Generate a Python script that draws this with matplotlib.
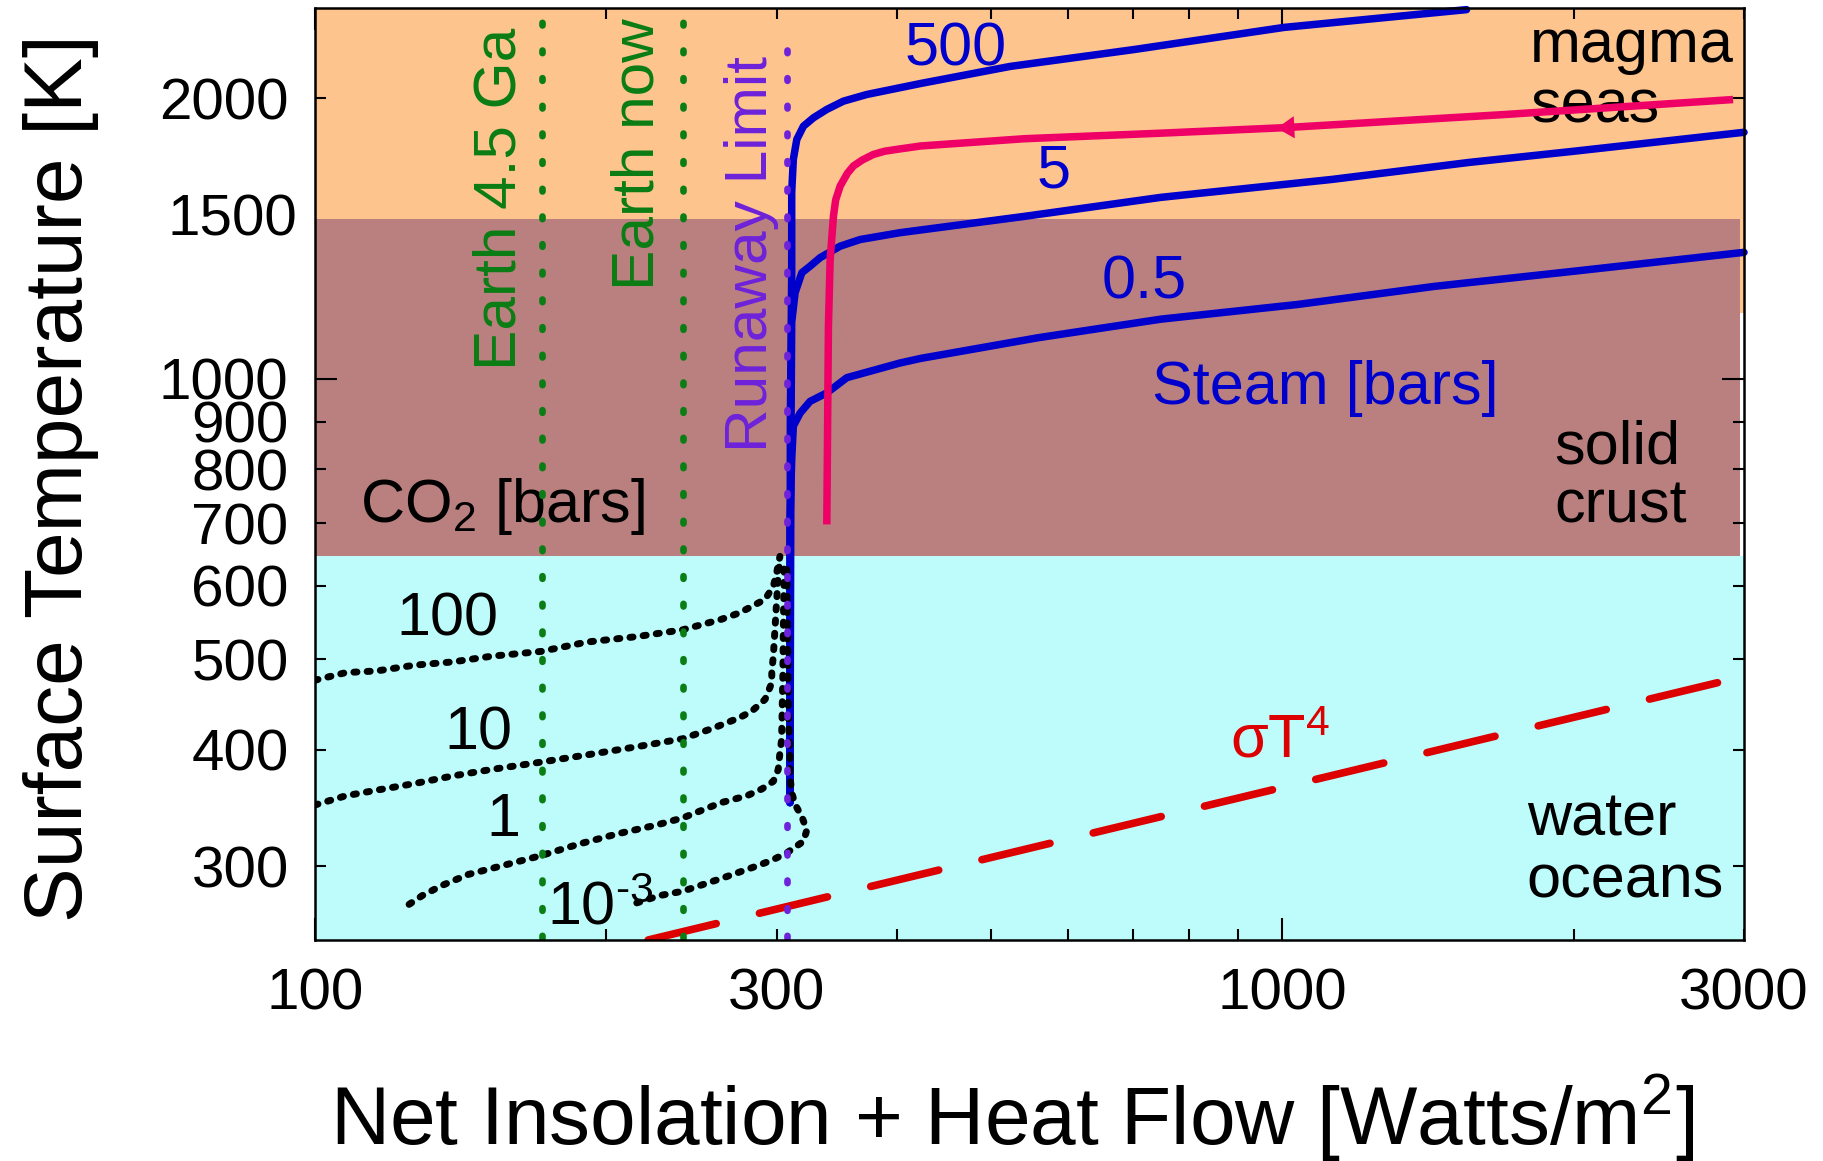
import matplotlib
matplotlib.use("Agg")
import matplotlib.pyplot as plt
from matplotlib.ticker import FixedLocator, FuncFormatter
from matplotlib.transforms import blended_transform_factory

plt.rcParams["font.family"] = ["Liberation Sans", "DejaVu Sans"]
plt.rcParams["mathtext.fontset"] = "custom"
plt.rcParams["mathtext.rm"] = "Liberation Sans"
plt.rcParams["mathtext.it"] = "Liberation Sans:italic"
plt.rcParams["mathtext.bf"] = "Liberation Sans:bold"

# ---------------- data ----------------
# Steam atmospheres (surface pressure in bars): net flux [W/m^2] vs surface T [K]
steam_05_x = [309.7, 309.7, 311.0, 312.2, 317.3, 324.9, 338.1, 354.6, 402.4, 423, 559, 749, 1038, 1438, 1992, 3000]
steam_05_T = [351, 700, 820, 890, 919, 946, 966, 1003, 1040, 1052, 1107, 1159, 1202, 1257, 1304, 1367]

steam_5_x = [309.7, 310.5, 311.0, 313.5, 318.6, 324.9, 332.7, 349.0, 366.0, 402.4, 541, 749, 1126, 1559, 1992, 3000]
steam_5_T = [351, 900, 1150, 1237, 1300, 1321, 1349, 1388, 1411, 1435, 1494, 1566, 1637, 1707, 1754, 1839]

steam_500_x = [309.7, 310.0, 311.0, 311.0, 312.2, 314.8, 319.8, 327.5, 338.1, 351.7, 371.8, 423, 523, 702, 1004, 1550]
steam_500_T = [351, 900, 1300, 1585, 1720, 1807, 1867, 1906, 1946, 1986, 2019, 2075, 2164, 2256, 2383, 2490]

# Cooling track of a magma ocean (drawn from high flux toward the runaway limit)
track_x = [2923, 1690, 1004, 749, 541, 423, 402.4, 388.0, 377.7, 367.8, 360.2, 355.1, 349.0, 345.3, 343.5, 340.8, 339.4, 338.1]
track_T = [1994, 1921, 1860, 1835, 1810, 1778, 1765, 1755, 1741, 1717, 1692, 1662, 1610, 1556, 1495, 1343, 1139, 698]

# CO2 atmospheres (bars)
co2_100_x = [100, 107.6, 115.8, 126.8, 138.9, 152.2, 171.3, 191.1, 215.1, 239.9, 262.9, 274.7, 282.8, 291.9, 297.7, 300.1, 302.4]
co2_100_T = [475, 484, 486, 493, 497, 504, 510, 522, 529, 538, 552, 561, 570, 580, 599, 620, 645]

co2_10_x = [100, 107.6, 115.8, 126.8, 138.9, 152.2, 171.3, 191.1, 215.1, 239.9, 258.1, 274.7, 282.8, 291.9, 296.6, 296.6, 297.7, 299.5, 301.0, 302.4]
co2_10_T = [349, 357, 362, 368, 375, 381, 388, 395, 403, 411, 422, 433, 440, 453, 472, 486, 504, 560, 610, 640]

co2_1_x = [125.1, 129.1, 135.2, 144.1, 156.4, 171.3, 187.7, 205.5, 225.1, 239.9, 262.9, 279.5, 289.6, 297.7, 301.2, 302.4, 303.6, 304.5, 305.0, 305.5]
co2_1_T = [273, 279, 286, 294, 300.5, 308, 317, 325, 332, 338, 351, 357, 363, 370, 381, 397, 410, 480, 560, 630]

co2_m3_x = [215.1, 227.1, 239.9, 262.9, 288.4, 297.7, 307.3, 319.8, 322.4, 318.6, 313.5, 311.0, 309.7, 309.7, 308.5, 308.0, 307.5, 307.3]
co2_m3_T = [274, 279, 282, 291, 301, 305, 310, 319, 328, 339, 349.5, 360, 375, 400, 431, 520, 600, 635]

# Blackbody sigma*T^4 line (end points)
bb_x = [221, 2888]
bb_T = [250, 475]

# Reference fluxes [W/m^2]
earth_early_flux = 171.6
earth_now_flux = 240.3
runaway_flux = 307.5
runaway_T_top = 2350

# Regime boundaries [K]
ocean_top = 645
crust_top = 1485
magma_bottom = 1178
crust_x_max = 2972

x_limits = (100, 3000)
y_limits = (250, 2500)
x_major = [100, 1000]
x_minor = [200, 300, 400, 500, 600, 700, 800, 900, 2000, 3000]
x_labelled = [100, 300, 1000, 3000]
y_major = [1000]
y_minor = [300, 400, 500, 600, 700, 800, 900, 2000]
y_labelled = [300, 400, 500, 600, 700, 800, 900, 1000, 2000]

# ---------------- styles ----------------
BLUE = "#0000CC"
PINK = "#EE0066"
RED = "#DD0000"
GREEN = "#0A7D14"
PURPLE = "#6E22DA"
ORANGE = "#FEC48E"
BROWN = "#BA8080"
CYAN = "#BEFCFC"

fig = plt.figure(figsize=(18.24, 11.61), dpi=100)
ax = fig.add_axes([0.172697, 0.190353, 0.783443, 0.802756])
ax.set_xscale("log")
ax.set_yscale("log")
ax.set_xlim(*x_limits)
ax.set_ylim(*y_limits)

# regime shading
ax.axhspan(y_limits[0], ocean_top, color=CYAN, lw=0, zorder=0)
ax.fill_between([x_limits[0], x_limits[1]], magma_bottom, y_limits[1], color=ORANGE, lw=0, zorder=0)
ax.fill_between([x_limits[0], crust_x_max], ocean_top, crust_top, color=BROWN, lw=0, zorder=0.1)

# annotations under the curves
TXT = 44
ax.text(459, 2171, "500", color=BLUE, fontsize=TXT, ha="center", va="baseline", zorder=1)
ax.text(580.6, 1603, "5", color=BLUE, fontsize=TXT, ha="center", va="baseline", zorder=1)
ax.text(719.4, 1221, "0.5", color=BLUE, fontsize=TXT, ha="center", va="baseline", zorder=1)
ax.text(733.3, 940, "Steam [bars]", color=BLUE, fontsize=TXT, ha="left", va="baseline", zorder=1)
ax.text(1803, 2188, "magma", fontsize=TXT, ha="left", va="baseline", zorder=1)
ax.text(1803, 1886, "seas", fontsize=TXT, ha="left", va="baseline", zorder=1)
ax.text(1909, 812, "solid", fontsize=TXT, ha="left", va="baseline", zorder=1)
ax.text(1909, 700.5, "crust", fontsize=TXT, ha="left", va="baseline", zorder=1)
ax.text(1789, 324, "water", fontsize=TXT, ha="left", va="baseline", zorder=1)
ax.text(1789, 278, "oceans", fontsize=TXT, ha="left", va="baseline", zorder=1)
ax.text(881.9, 392, "σT$^4$", color=RED, fontsize=TXT, ha="left", va="baseline", zorder=1)
ax.text(111.3, 702, "CO$_2$ [bars]", fontsize=TXT, ha="left", va="baseline", zorder=1)
ax.text(136.9, 530, "100", fontsize=TXT, ha="center", va="baseline", zorder=1)
ax.text(147.4, 400, "10", fontsize=TXT, ha="center", va="baseline", zorder=1)
ax.text(156.4, 323, "1", fontsize=TXT, ha="center", va="baseline", zorder=1)
ax.text(173.7, 259.5, r"10$^{\text{-}3}$", fontsize=TXT, ha="left", va="baseline", zorder=1)

ax.text(161.3, 1022, "Earth 4.5 Ga", color=GREEN, fontsize=43.5, rotation=90,
        rotation_mode="anchor", ha="left", va="baseline", zorder=1)
ax.text(224.0, 1245, "Earth now", color=GREEN, fontsize=43.5, rotation=90,
        rotation_mode="anchor", ha="left", va="baseline", zorder=1)
ax.text(293.2, 835, "Runaway Limit", color=PURPLE, fontsize=43.5, rotation=90,
        rotation_mode="anchor", ha="left", va="baseline", zorder=1)

# steam curves
for xs, ts in [(steam_05_x, steam_05_T), (steam_5_x, steam_5_T), (steam_500_x, steam_500_T)]:
    ax.plot(xs, ts, color=BLUE, lw=5.4, solid_capstyle="round", solid_joinstyle="round",
            zorder=2, clip_on=False)

# cooling track with direction arrow
ax.plot(track_x, track_T, color=PINK, lw=5.4, solid_capstyle="butt", solid_joinstyle="round", zorder=3)
ax.annotate("", xy=(987, 1858), xytext=(1040, 1863),
            arrowprops=dict(arrowstyle="-|>,head_length=1.25,head_width=0.8",
                            mutation_scale=10, color=PINK, lw=0, shrinkA=0, shrinkB=0),
            zorder=3)

# CO2 curves
for xs, ts in [(co2_100_x, co2_100_T), (co2_10_x, co2_10_T), (co2_1_x, co2_1_T), (co2_m3_x, co2_m3_T)]:
    ax.plot(xs, ts, color="black", lw=5.0, linestyle=(0, (0.45, 1.46)),
            dash_capstyle="round", zorder=4)

# blackbody line
ax.plot(bb_x, bb_T, color=RED, lw=5.5, linestyle=(0, (9.16, 5.82)), dash_capstyle="round", zorder=4)

# reference fluxes
for fx, top, col in [(earth_early_flux, y_limits[1], GREEN), (earth_now_flux, y_limits[1], GREEN),
                     (runaway_flux, runaway_T_top, PURPLE)]:
    ax.plot([fx, fx], [y_limits[0] * 1.004, top], color=col, lw=4.8, linestyle=(0, (0.4, 3.75)),
            dash_capstyle="round", zorder=5)

# axes, ticks, labels
for s in ax.spines.values():
    s.set_linewidth(1.8)
    s.set_zorder(6)

fmt_x = FuncFormatter(lambda v, p: f"{v:.0f}" if any(abs(v - t) < 1e-6 for t in x_labelled) else "")
fmt_y = FuncFormatter(lambda v, p: f"{v:.0f}" if any(abs(v - t) < 1e-6 for t in y_labelled) else "")
ax.xaxis.set_major_locator(FixedLocator(x_major))
ax.xaxis.set_minor_locator(FixedLocator(x_minor))
ax.yaxis.set_major_locator(FixedLocator(y_major))
ax.yaxis.set_minor_locator(FixedLocator(y_minor))
ax.xaxis.set_major_formatter(fmt_x)
ax.xaxis.set_minor_formatter(fmt_x)
ax.yaxis.set_major_formatter(fmt_y)
ax.yaxis.set_minor_formatter(fmt_y)

ax.tick_params(which="both", direction="in", top=True, right=True, labelsize=42, width=1.5)
ax.tick_params(which="major", length=16)
ax.tick_params(which="minor", length=8)
ax.tick_params(axis="x", which="both", pad=20)
ax.tick_params(axis="y", which="both", pad=19)

ax.text(-0.0126, 1500, "1500", fontsize=42, ha="right", va="center_baseline",
        transform=blended_transform_factory(ax.transAxes, ax.transData), clip_on=False)

ax.set_xlabel("Net Insolation + Heat Flow [Watts/m$^2$]", fontsize=59, va="baseline")
ax.xaxis.set_label_coords(0.4878, -0.22)
ax.set_ylabel("Surface Temperature [K]", fontsize=59, va="baseline")
ax.yaxis.set_label_coords(-0.163, 0.4952)

fig.savefig("out.png", dpi=100)
